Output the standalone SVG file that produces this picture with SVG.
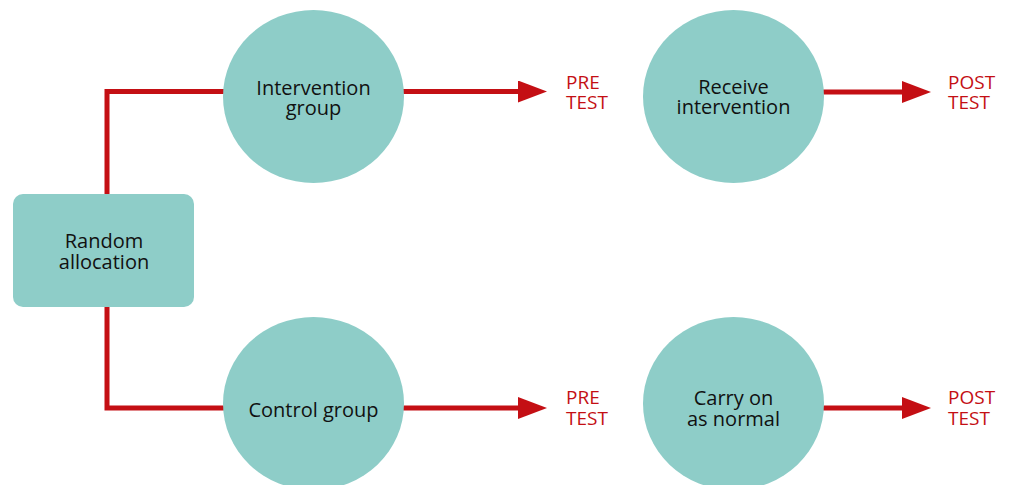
<svg xmlns="http://www.w3.org/2000/svg" width="1010" height="485" viewBox="0 0 1010 485">
<style>
.node{fill:#8ECDC8}
.t{font-family:"Open Sans","Noto Sans",sans-serif;font-size:20px;fill:#111;text-anchor:middle}
.r{font-family:"Open Sans","Noto Sans",sans-serif;font-size:19px;fill:#C40F14}
.c{fill:none;stroke:#C40F14;stroke-width:5}
</style>
<defs>
<marker id="ah" markerUnits="userSpaceOnUse" markerWidth="30" markerHeight="22" refX="0" refY="11" orient="auto" viewBox="0 0 30 22">
<path d="M0,0 L29,11 L0,22 Z" fill="#C40F14"/>
</marker>
</defs>
<rect width="1010" height="485" fill="#fff"/>
<g id="connectors">
<polyline class="c" points="224,91.5 107,91.5 107,195"/>
<polyline class="c" points="107,306 107,408 224,408"/>
<line class="c" x1="403" y1="91.5" x2="518" y2="91.5" marker-end="url(#ah)"/>
<line class="c" x1="823" y1="92" x2="902" y2="92" marker-end="url(#ah)"/>
<line class="c" x1="403" y1="408" x2="518" y2="408" marker-end="url(#ah)"/>
<line class="c" x1="823" y1="408" x2="902" y2="408" marker-end="url(#ah)"/>
</g>
<g id="random">
<rect class="node" x="13" y="194" width="181" height="113" rx="10"/>
<text class="t" x="104" y="248">Random</text>
<text class="t" x="104" y="269">allocation</text>
</g>
<g id="intervention">
<ellipse class="node" cx="313.5" cy="96.5" rx="90.5" ry="86.5"/>
<text class="t" x="313.5" y="95">Intervention</text>
<text class="t" x="313.5" y="115">group</text>
</g>
<g id="control">
<ellipse class="node" cx="313.5" cy="403.5" rx="90.5" ry="86.5"/>
<text class="t" x="313.5" y="417">Control group</text>
</g>
<g id="receive">
<ellipse class="node" cx="733.5" cy="96.5" rx="90.5" ry="86.5"/>
<text class="t" x="733.5" y="94">Receive</text>
<text class="t" x="733.5" y="114">intervention</text>
</g>
<g id="carry">
<ellipse class="node" cx="733.5" cy="403.5" rx="90.5" ry="86.5"/>
<text class="t" x="733.5" y="405">Carry on</text>
<text class="t" x="733.5" y="426">as normal</text>
</g>
<g id="pre1"><text class="r" x="566" y="89">PRE</text><text class="r" x="566" y="109">TEST</text></g>
<g id="post1"><text class="r" x="948" y="89">POST</text><text class="r" x="948" y="109">TEST</text></g>
<g id="pre2"><text class="r" x="566" y="404">PRE</text><text class="r" x="566" y="425">TEST</text></g>
<g id="post2"><text class="r" x="948" y="404">POST</text><text class="r" x="948" y="425">TEST</text></g>
</svg>
